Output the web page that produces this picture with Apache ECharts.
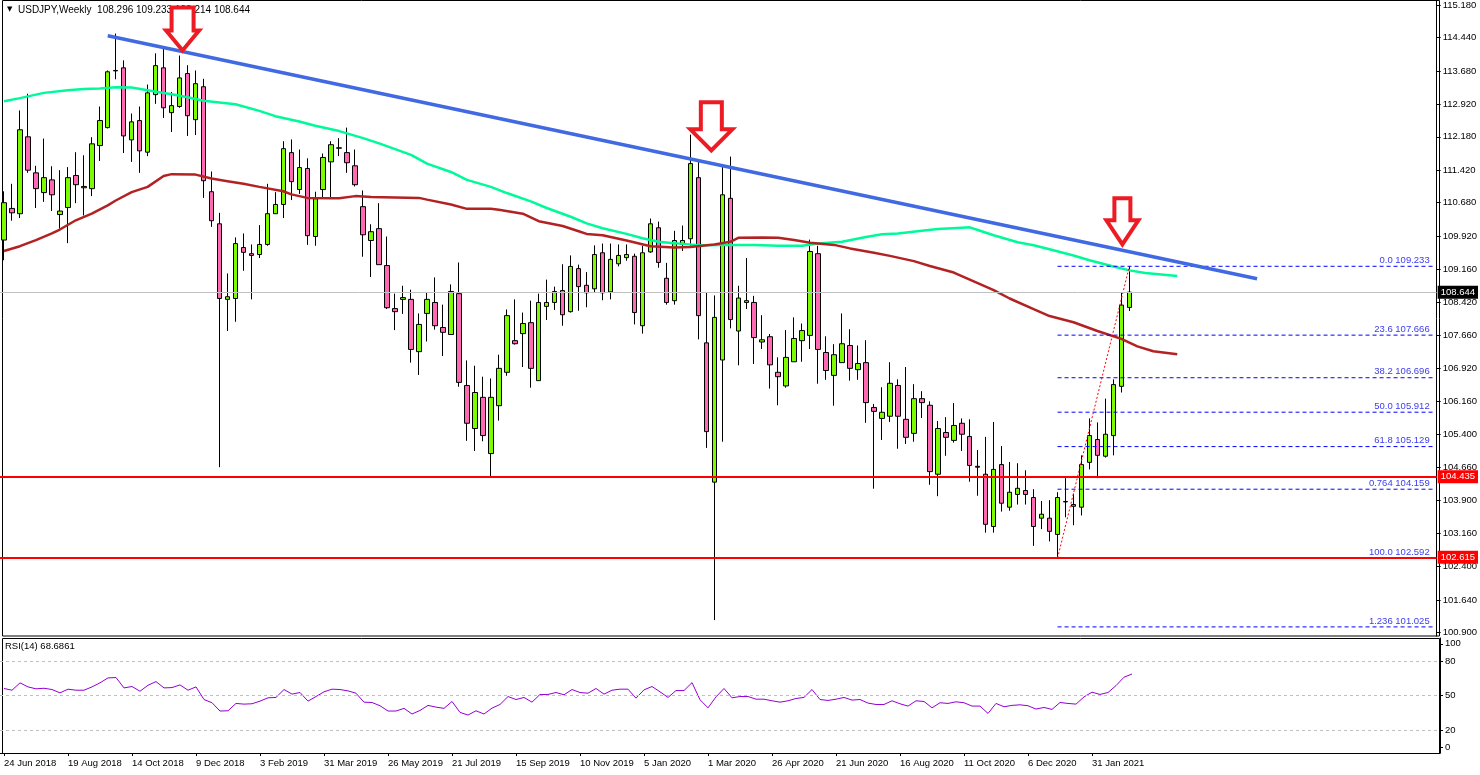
<!DOCTYPE html>
<html><head><meta charset="utf-8">
<script src="https://cdn.jsdelivr.net/npm/echarts@6/dist/echarts.min.js"></script>
<style>html,body{margin:0;padding:0;background:#fff}#c{width:1480px;height:775px}</style>
</head><body><div id="c"></div>
<script>
// ---------- data ----------
const dateLabels = ['24 Jun 2018','19 Aug 2018','14 Oct 2018','9 Dec 2018','3 Feb 2019','31 Mar 2019','26 May 2019','21 Jul 2019','15 Sep 2019','10 Nov 2019','5 Jan 2020','1 Mar 2020','26 Apr 2020','21 Jun 2020','16 Aug 2020','11 Oct 2020','6 Dec 2020','31 Jan 2021'];
const priceTicks = [115.18,114.44,113.68,112.92,112.18,111.42,110.68,109.92,109.16,108.42,107.66,106.92,106.16,105.40,104.66,103.90,103.16,102.40,101.64,100.90];
const rsiTicks = [0,20,50,80,100];

const opens = [109.83,110.55,110.43,112.18,111.36,110.91,111.20,110.41,110.57,111.30,
111.05,111.00,111.98,112.39,113.68,113.75,112.11,112.55,111.83,113.14,
113.75,112.73,112.87,113.62,112.57,113.32,110.93,110.20,108.48,108.50,
109.66,109.52,109.50,109.73,110.43,110.64,111.82,110.98,111.46,109.91,
110.98,111.61,111.92,111.82,111.52,110.59,109.82,110.09,109.25,108.27,
108.48,108.48,107.29,108.16,108.41,107.84,107.68,108.61,106.52,105.54,
106.25,104.97,106.06,106.82,107.54,107.70,107.95,106.63,108.32,108.41,
108.68,108.20,109.18,108.80,108.72,109.54,108.65,109.29,109.43,109.46,
107.88,109.56,110.11,108.96,108.45,109.73,109.86,111.25,107.49,104.32,
107.10,110.78,107.76,108.41,108.41,107.51,107.63,106.82,106.51,107.06,
107.54,107.66,109.52,107.27,106.75,107.04,107.43,106.88,107.04,106.02,
105.77,105.82,106.52,105.75,105.43,106.22,106.07,104.50,105.45,105.27,
105.66,105.36,104.68,104.50,103.31,104.72,103.75,104.04,104.13,103.97,
103.50,103.50,103.13,103.87,103.81,103.75,104.77,105.29,104.91,105.38,
106.50,108.296];
const closes = [110.68,110.45,112.34,111.42,111.00,111.25,110.86,110.49,111.25,111.09,
111.02,112.02,112.55,113.66,113.69,112.20,112.52,111.86,113.18,113.80,
112.84,112.89,113.52,112.66,113.39,111.18,110.27,108.50,108.54,109.75,
109.55,109.48,109.73,110.43,110.64,111.91,111.16,111.48,109.93,110.77,
111.71,112.00,111.93,111.59,111.09,109.95,110.02,109.27,108.29,108.20,
108.52,107.34,107.91,108.48,107.88,107.73,108.66,106.59,105.66,106.36,
105.38,106.25,106.91,108.11,107.47,107.93,106.91,108.41,108.41,108.66,
108.13,109.23,108.77,108.63,109.50,108.63,109.39,109.48,109.50,108.18,
109.54,110.20,109.32,108.41,109.82,109.82,111.57,108.11,105.47,108.07,
110.86,108.02,108.51,108.45,107.61,107.56,106.99,106.72,107.16,107.59,
107.77,109.57,107.34,106.86,107.22,107.47,106.91,107.02,106.13,105.93,
105.91,106.57,105.82,105.34,106.22,106.13,104.56,105.54,105.34,105.61,
105.41,104.70,104.66,103.36,104.61,103.84,104.09,104.18,104.04,103.31,
103.59,103.20,103.97,103.88,103.77,104.72,105.38,104.93,105.41,106.54,
108.35,108.644];
const lows = [109.37,110.27,110.33,111.36,110.56,110.70,110.49,110.09,109.76,110.67,
110.39,110.83,111.63,112.37,113.49,111.81,111.61,111.36,111.74,112.93,
112.61,112.29,112.84,112.20,112.22,110.79,110.13,104.66,107.76,107.97,
109.13,108.48,109.42,109.70,110.43,110.33,110.74,110.88,109.72,109.70,
110.80,110.81,111.74,111.36,111.05,109.45,108.99,109.27,108.26,107.78,
108.15,107.04,106.76,107.52,107.79,107.19,107.68,106.49,105.26,105.03,
105.25,104.44,105.72,106.74,107.45,106.94,106.47,106.63,108.01,108.24,
107.88,108.18,108.22,108.30,108.64,108.46,108.48,109.23,109.36,107.91,
107.70,109.54,109.20,108.36,108.36,109.58,109.67,107.57,105.10,101.18,
105.24,107.82,106.98,108.26,107.01,107.35,106.45,106.07,106.47,107.06,
107.06,107.35,106.56,106.65,106.06,107.04,106.63,106.65,105.67,104.17,
105.28,105.69,105.08,105.19,105.24,105.78,104.26,104.00,104.92,105.22,
105.03,104.33,104.01,103.17,103.17,103.65,103.67,103.81,103.81,102.87,
103.25,102.97,102.592,103.52,103.34,103.56,104.61,104.41,104.88,104.93,
106.36,108.214];
const highs = [110.94,111.11,112.78,113.16,111.52,112.14,111.51,111.42,111.49,111.83,
111.76,112.17,112.87,113.69,114.53,113.92,112.71,112.87,113.37,114.08,
114.21,113.20,114.03,113.81,113.69,113.50,111.39,110.45,109.07,109.89,
109.98,109.73,110.17,111.11,110.92,112.08,112.12,111.89,111.69,110.93,
111.80,112.08,112.15,112.39,111.89,110.96,110.19,110.67,109.91,108.61,
108.79,108.70,108.16,108.63,108.98,108.36,108.82,109.32,107.09,106.97,
106.72,106.68,107.22,108.25,108.48,108.18,108.45,108.61,108.93,108.77,
109.28,109.48,109.27,109.10,109.71,109.75,109.75,109.73,109.73,109.52,
109.70,110.32,110.25,109.31,110.04,110.16,112.23,111.64,108.63,108.57,
111.54,111.73,108.79,109.42,108.56,108.12,107.69,107.16,107.78,108.07,
107.93,109.84,109.70,107.64,107.46,108.16,107.80,107.43,107.55,106.10,
106.48,107.05,106.66,106.94,106.55,106.39,106.16,105.71,105.80,106.12,
105.77,105.75,105.05,105.35,105.69,105.14,104.78,104.75,104.59,104.16,
103.89,103.91,104.09,104.41,104.06,104.93,105.77,105.68,106.22,106.66,
108.64,109.233];
const rsi = [56.1,54.6,61.0,57.5,55.8,56.3,55.2,52.3,55.5,54.6,
54.6,57.5,61.0,65.3,65.6,56.6,57.8,53.7,58.9,62.1,
56.6,56.9,59.2,54.6,57.5,46.5,43.7,36.5,36.7,43.1,
42.5,42.8,45.1,48.0,48.3,55.2,51.2,52.6,45.1,49.1,
53.2,55.5,55.2,54.0,52.0,44.2,43.9,41.1,36.5,36.5,
38.8,33.9,37.0,41.4,39.9,38.8,44.8,35.3,33.0,36.7,
33.9,39.0,42.2,49.1,46.5,48.3,44.2,50.9,50.9,52.6,
50.6,55.2,52.6,52.0,56.1,51.2,54.6,55.5,55.5,47.7,
54.9,57.8,53.2,48.3,54.3,54.3,61.2,46.3,39.3,48.8,
56.1,48.0,49.1,49.1,46.8,46.8,45.4,44.2,45.4,47.4,
48.3,55.2,46.5,45.7,46.8,48.3,46.0,46.5,43.4,42.2,
42.2,45.4,42.8,40.8,45.4,44.8,39.3,43.7,43.1,44.5,
43.7,40.8,40.8,34.4,43.1,40.2,41.4,41.9,41.1,38.2,
39.6,37.9,43.9,43.1,42.5,48.8,52.9,50.9,52.6,58.6,
65.9,68.69];
// moving averages (shifted forward), sampled [barIndex, value]
const maGreen = [[0,112.99],[2,113.06],[5,113.18],[8,113.24],[10,113.27],[12,113.28],[14,113.31],[16,113.30],[18,113.24],[21,113.15],[23,113.08],[25,113.00],[27,112.96],[29,112.92],[32,112.77],[34,112.65],[37,112.53],[39,112.43],[42,112.31],[45,112.15],[47,112.03],[49,111.90],[51,111.77],[53,111.57],[56,111.38],[58,111.20],[61,111.04],[63,110.90],[66,110.71],[68,110.56],[71,110.36],[73,110.21],[75,110.10],[78,109.97],[80,109.87],[82,109.79],[84,109.76],[87,109.71],[90,109.72],[94,109.72],[97,109.70],[100,109.70],[102,109.75],[105,109.79],[108,109.90],[110,109.96],[112,109.98],[115,110.04],[117,110.08],[120,110.11],[121,110.12],[122,110.06],[124,109.94],[127,109.78],[129,109.71],[131,109.62],[134,109.48],[136,109.37],[139,109.23],[141,109.14],[143,109.08],[147,109.01]];
const maRed = [[0,109.58],[2,109.69],[4,109.83],[6,109.98],[7,110.07],[9,110.28],[11,110.43],[13,110.62],[14,110.73],[16,110.92],[18,111.04],[20,111.29],[21,111.33],[24,111.32],[26,111.23],[28,111.17],[30,111.11],[32,111.04],[35,110.94],[36,110.87],[38,110.79],[41,110.78],[42,110.78],[44,110.83],[46,110.81],[49,110.80],[52,110.79],[53,110.75],[56,110.64],[58,110.54],[61,110.54],[62,110.52],[65,110.43],[67,110.26],[70,110.15],[72,110.03],[73,109.97],[75,109.94],[78,109.82],[81,109.69],[84,109.66],[86,109.67],[89,109.73],[91,109.79],[92,109.88],[95,109.89],[97,109.88],[99,109.83],[101,109.77],[104,109.72],[106,109.64],[109,109.54],[111,109.47],[114,109.35],[116,109.24],[119,109.09],[121,108.93],[122,108.85],[124,108.69],[126,108.50],[129,108.26],[131,108.10],[134,107.96],[137,107.76],[140,107.58],[142,107.41],[144,107.30],[147,107.23]];
const trendLine = [[13,114.48],[157,108.95]];
const fibSwing = [[132,102.592],[141,109.233]];
const fibNames = ['0.0','23.6','38.2','50.0','61.8','0.764','100.0','1.236'];
const fibValues = [109.233,107.666,106.696,105.912,105.129,104.159,102.592,101.025];
const fibRange = [132,179];
const supportLevels = [104.435,102.615];
const lastPrice = 108.644;
const titleText = 'USDJPY,Weekly  108.296 109.233 108.214 108.644';
const rsiText = 'RSI(14) 68.6861';
// arrow annotations: [barIndex, price at tip, dx, stemHalf, headHalf, height, headHeight]
const arrows = [[22,114.077,3,13,18.5,48,25],[89,111.803,-3,12.5,23,53,26],[140,109.665,1,10,18,51,29]];

// ---------- chart ----------
const N = 180;
const cats = Array.from({length:N},(_,i)=>String(i));
const FONT = 'Liberation Sans';
const candleData = opens.map((o,i)=>[o,closes[i],lows[i],highs[i]]);
const isTick = i => i%8===0 && i/8 < dateLabels.length;

const chart = echarts.init(document.getElementById('c'));
const levelMark = supportLevels.map(v=>({yAxis:v,lineStyle:{color:'#ff0000',width:2,type:'solid'},
  label:{show:true,position:'end',distance:1,formatter:v.toFixed(3),backgroundColor:'#ff0000',color:'#fff',
    padding:[2,3,1,3],fontFamily:FONT,fontSize:9.5}}));
levelMark.push({yAxis:lastPrice,lineStyle:{color:'#c0c0c0',width:1,type:'solid'},
  label:{show:true,position:'end',distance:1,formatter:lastPrice.toFixed(3),backgroundColor:'#000',color:'#fff',
    padding:[2,3,1,3],fontFamily:FONT,fontSize:9.5}});

// one dashed blue series per Fibonacci level
const fibSeries = fibValues.map((v,k)=>({
  type:'line',name:'fib'+k,xAxisIndex:0,yAxisIndex:0,
  data:[[fibRange[0],v],[fibRange[1],v]],showSymbol:false,z:4,silent:true,
  lineStyle:{color:'#0000ff',width:1,type:[4,3]},itemStyle:{color:'#0000ff'}
}));

const option = {
  animation:false,
  backgroundColor:'#fff',
  grid:[{left:0,right:40,top:0,height:636},{left:0,right:40,top:638,height:115}],
  xAxis:[
    {type:'category',gridIndex:0,data:cats,boundaryGap:true,show:false},
    {type:'category',gridIndex:1,data:cats,boundaryGap:true,
      axisLine:{show:true,lineStyle:{color:'#000',width:1}},
      axisTick:{show:true,alignWithLabel:true,interval:i=>isTick(i),length:3,lineStyle:{color:'#000'}},
      axisLabel:{show:true,interval:i=>isTick(i),formatter:(v,i)=>dateLabels[i/8]||'',align:'left',margin:5,
        fontFamily:FONT,fontSize:9.5,color:'#000'},
      splitLine:{show:false}}
  ],
  yAxis:[
    {type:'value',gridIndex:0,position:'right',min:100.818,max:115.282,scale:true,
      axisLine:{show:true,lineStyle:{color:'#000'}},
      axisTick:{show:true,customValues:priceTicks,length:4,lineStyle:{color:'#000'}},
      axisLabel:{show:true,customValues:priceTicks,formatter:v=>v.toFixed(3),margin:6,fontFamily:FONT,fontSize:9.5,color:'#000'},
      splitLine:{show:false}},
    {type:'value',gridIndex:1,position:'right',min:0,max:100,
      axisLine:{show:true,lineStyle:{color:'#000'}},
      axisTick:{show:true,customValues:[5,20,50,80,95],length:3,lineStyle:{color:'#000'}},
      axisLabel:{show:true,customValues:[5,20,50,80,95],
        formatter:v=>String(v===5?rsiTicks[0]:v===95?rsiTicks[4]:v),margin:5,fontFamily:FONT,fontSize:9.5,color:'#000'},
      splitLine:{show:false}}
  ],
  series:[
    {type:'candlestick',name:'USDJPY',xAxisIndex:0,yAxisIndex:0,data:candleData,barWidth:5,z:2,
      itemStyle:{color:'#7CFC00',color0:'#FF69B4',borderColor:'#000',borderColor0:'#000',borderColorDoji:'#000',borderWidth:1}},
    {type:'line',name:'maGreen',xAxisIndex:0,yAxisIndex:0,data:maGreen,showSymbol:false,z:3,silent:true,
      lineStyle:{color:'#00FA9A',width:2.5},itemStyle:{color:'#00FA9A'}},
    {type:'line',name:'maRed',xAxisIndex:0,yAxisIndex:0,data:maRed,showSymbol:false,z:3,silent:true,
      lineStyle:{color:'#B22222',width:2.5},itemStyle:{color:'#B22222'}},
    {type:'line',name:'levels',xAxisIndex:0,yAxisIndex:0,data:[],z:4,silent:true,
      markLine:{silent:true,symbol:['none','none'],animation:false,data:levelMark}},
    ...fibSeries,
    {type:'line',name:'fibSwing',xAxisIndex:0,yAxisIndex:0,data:fibSwing,showSymbol:false,z:4,silent:true,
      lineStyle:{color:'#ff0000',width:1,type:[2,2]}},
    {type:'line',name:'trend',xAxisIndex:0,yAxisIndex:0,data:trendLine,showSymbol:false,z:5,silent:true,
      lineStyle:{color:'#4169E1',width:3.5}},
    {type:'line',name:'RSI',xAxisIndex:1,yAxisIndex:1,data:rsi,showSymbol:false,z:3,silent:true,
      lineStyle:{color:'#9400D3',width:1},itemStyle:{color:'#9400D3'},
      markLine:{silent:true,symbol:['none','none'],animation:false,label:{show:false},
        lineStyle:{color:'#c0c0c0',width:1,type:[3,3]},data:[{yAxis:80},{yAxis:50},{yAxis:20}]}}
  ]
};
chart.setOption(option);

// annotations positioned through the chart's own scales
const g = [];
g.push({type:'rect',shape:{x:2.5,y:0.5,width:1437,height:635.5},style:{fill:null,stroke:'#000',lineWidth:1},z:1,silent:true});
g.push({type:'rect',shape:{x:2.5,y:638.5,width:1437,height:115},style:{fill:null,stroke:'#000',lineWidth:1},z:1,silent:true});
g.push({type:'text',x:7,y:6,style:{text:'▼',font:'7px DejaVu Sans',fill:'#000'},z:10});
g.push({type:'text',x:18,y:5,style:{text:titleText,font:'10px '+FONT,fill:'#000'},z:10});
g.push({type:'text',x:5,y:641,style:{text:rsiText,font:'9.5px '+FONT,fill:'#000'},z:10});
fibValues.forEach((v,k)=>{
  const p = chart.convertToPixel({xAxisIndex:0,yAxisIndex:0},[fibRange[1],v]);
  g.push({type:'text',x:p[0]-3,y:p[1]-1,style:{text:fibNames[k]+' '+v.toFixed(3),font:'9.5px '+FONT,fill:'#3c3cf0',
    textAlign:'right',textVerticalAlign:'bottom'},z:10,silent:true});
});
arrows.forEach(a=>{
  const p = chart.convertToPixel({xAxisIndex:0,yAxisIndex:0},[a[0],a[1]]);
  const tx = p[0]+a[2], ty = p[1];
  const sw=a[3], hw=a[4], H=a[5], hh=a[6];
  const pts = [[-sw+2,-H+2],[sw-2,-H+2],[sw-2,-hh+2],[hw-2,-hh+2],[0,-3],[-hw+2,-hh+2],[-sw+2,-hh+2]]
    .map(q=>[tx+q[0],ty+q[1]]);
  g.push({type:'polygon',shape:{points:pts},style:{fill:'#fff',stroke:'#ED1C24',lineWidth:4,lineJoin:'miter'},z:20,silent:true});
});
chart.setOption({graphic:g});
</script>
</body></html>
